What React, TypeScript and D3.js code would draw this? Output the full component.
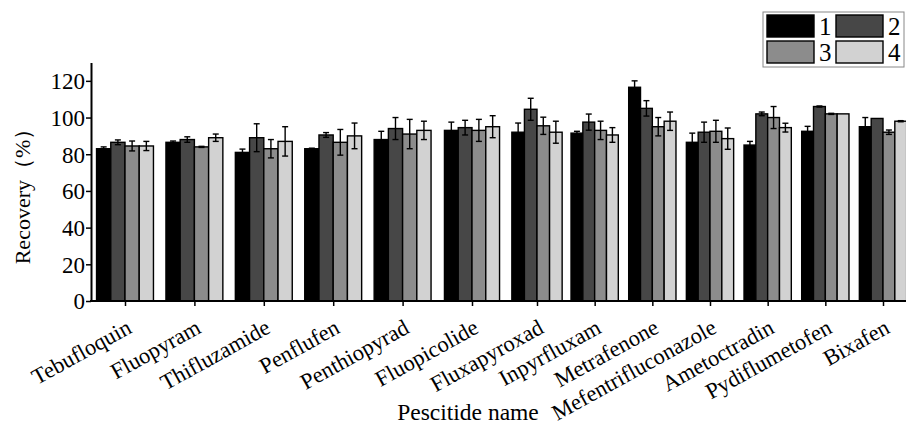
import { useEffect, useRef } from "react";
import * as d3 from "d3";

const pesticides = [
  "Tebufloquin",
  "Fluopyram",
  "Thifluzamide",
  "Penflufen",
  "Penthiopyrad",
  "Fluopicolide",
  "Fluxapyroxad",
  "Inpyrfluxam",
  "Metrafenone",
  "Mefentrifluconazole",
  "Ametoctradin",
  "Pydiflumetofen",
  "Bixafen",
];
const seriesNames = ["1", "2", "3", "4"];
const rec1 = [83, 86.5, 81, 83, 88, 93, 92, 91.5, 116.5, 86.5, 85, 92.5, 95];
const rec2 = [86.5, 88, 89, 90.5, 94, 94.5, 104.5, 97.5, 105, 92, 102, 106, 99.5];
const rec3 = [84.5, 84, 83, 86.5, 91, 93, 95.5, 93, 95, 92.5, 100, 102, 92];
const rec4 = [84.5, 89, 87, 90, 93, 95, 92, 90.5, 98, 88.5, 94.5, 102, 98];
const err1 = [1, 0.7, 1.8, 0.3, 4.5, 4.5, 5, 1, 3.5, 5, 2, 2.7, 5];
const err2 = [1.3, 1.5, 7.6, 1.3, 6, 4, 6, 4.4, 4.2, 5.5, 1, 0.3, 0];
const err3 = [2.7, 0.3, 5, 7, 8, 6, 4.7, 5, 5, 6, 6, 0.3, 1.2];
const err4 = [2.5, 2, 8, 7, 5, 6, 6, 4, 5, 5.8, 2.4, 0, 0.3];
const yTicks = [0, 20, 40, 60, 80, 100, 120];

const colors = ["#000000", "#474747", "#8c8c8c", "#d2d2d2"];
const font = "'Liberation Serif', 'Times New Roman', serif";

function drawChart(svgEl: SVGSVGElement) {
  const svg = d3.select(svgEl);
  svg.selectAll("*").remove();

  const values = [rec1, rec2, rec3, rec4];
  const errors = [err1, err2, err3, err4];

  const axisX = 91;
  const axisY = 301;

  const y = d3.scaleLinear().domain([0, 130]).range([axisY, 62.5]);
  // group centres (the picture is squeezed on the right side)
  const x = d3.scaleLinear().domain([0, 5, 6, 12]).range([125, 472, 537, 883]);

  const stepAt = (i: number) => (x(i + 1) - x(i - 1)) / 2;

  const rows = pesticides.flatMap((p, i) =>
    seriesNames.map((s, k) => ({ i, k, v: values[k][i], e: errors[k][i] })),
  );

  const inner = (i: number) => {
    const w = stepAt(i) * 0.82;
    return d3
      .scaleBand<number>()
      .domain([0, 1, 2, 3])
      .range([x(i) - w / 2, x(i) + w / 2]);
  };

  // bars
  svg
    .append("g")
    .selectAll("rect")
    .data(rows)
    .join("rect")
    .attr("x", (d) => inner(d.i)(d.k)!)
    .attr("y", (d) => y(d.v))
    .attr("width", (d) => inner(d.i).bandwidth())
    .attr("height", (d) => axisY - y(d.v))
    .attr("fill", (d) => colors[d.k])
    .attr("stroke", "#000")
    .attr("stroke-width", 1.4);

  // error bars
  const eb = svg
    .append("g")
    .attr("stroke", "#000")
    .attr("stroke-width", 1.4)
    .selectAll("g")
    .data(rows.filter((d) => d.e > 0))
    .join("g");
  const cx = (d: { i: number; k: number }) =>
    inner(d.i)(d.k)! + inner(d.i).bandwidth() / 2;
  eb.append("line")
    .attr("x1", cx)
    .attr("x2", cx)
    .attr("y1", (d) => y(d.v + d.e))
    .attr("y2", (d) => y(d.v - d.e));
  eb.append("line")
    .attr("x1", (d) => cx(d) - 3)
    .attr("x2", (d) => cx(d) + 3)
    .attr("y1", (d) => y(d.v + d.e))
    .attr("y2", (d) => y(d.v + d.e));
  eb.append("line")
    .attr("x1", (d) => cx(d) - 3)
    .attr("x2", (d) => cx(d) + 3)
    .attr("y1", (d) => y(d.v - d.e))
    .attr("y2", (d) => y(d.v - d.e));

  // y axis
  const yAxis = svg
    .append("g")
    .attr("transform", `translate(${axisX},0)`)
    .call(d3.axisLeft(y).tickValues(yTicks).tickSize(5).tickSizeOuter(0));
  yAxis.select(".domain").attr("stroke-width", 2);
  yAxis.selectAll(".tick line").attr("stroke-width", 1.5);
  yAxis
    .selectAll("text")
    .attr("font-family", font)
    .attr("font-size", 23)
    .attr("fill", "#000")
    .attr("x", -6)
    .attr("dy", "0.34em");

  // x axis
  const xAxis = svg
    .append("g")
    .attr("transform", `translate(0,${axisY})`)
    .call(
      d3
        .axisBottom(x)
        .tickValues(d3.range(pesticides.length))
        .tickSize(5)
        .tickFormat(() => ""),
    );
  xAxis.select(".domain").remove();
  xAxis.selectAll(".tick line").attr("stroke-width", 1.5);
  svg
    .append("line")
    .attr("x1", axisX - 1)
    .attr("x2", 906)
    .attr("y1", axisY)
    .attr("y2", axisY)
    .attr("stroke", "#000")
    .attr("stroke-width", 2);

  // category labels
  svg
    .append("g")
    .attr("font-family", font)
    .attr("font-size", 22.5)
    .attr("text-anchor", "end")
    .selectAll("text")
    .data(pesticides)
    .join("text")
    .attr("transform", (d, i) => `translate(${x(i) + 8},${axisY + 31}) rotate(-29)`)
    .text((d) => d);

  // axis titles
  svg
    .append("text")
    .attr("x", 468)
    .attr("y", 420)
    .attr("text-anchor", "middle")
    .attr("font-family", font)
    .attr("font-size", 23.5)
    .text("Pescitide name");
  svg
    .append("text")
    .attr("transform", `translate(30,191) rotate(-90)`)
    .attr("text-anchor", "middle")
    .attr("font-family", font)
    .attr("font-size", 22)
    .text("Recovery（%）");

  // legend
  const legend = svg.append("g");
  legend
    .append("rect")
    .attr("x", 763)
    .attr("y", 12)
    .attr("width", 141)
    .attr("height", 55)
    .attr("fill", "#fff")
    .attr("stroke", "#888")
    .attr("stroke-width", 1);
  const li = legend
    .selectAll("g")
    .data(seriesNames)
    .join("g")
    .attr(
      "transform",
      (d, k) => `translate(${767 + (k % 2) * 69},${15 + Math.floor(k / 2) * 26})`,
    );
  li.append("rect")
    .attr("width", 47)
    .attr("height", 22)
    .attr("fill", (d, k) => colors[k])
    .attr("stroke", "#000")
    .attr("stroke-width", 1.4);
  li.append("text")
    .attr("x", 52)
    .attr("y", 20)
    .attr("font-family", font)
    .attr("font-size", 25)
    .text((d) => d);
}

export default function App() {
  const ref = useRef<SVGSVGElement>(null);
  useEffect(() => {
    if (ref.current) drawChart(ref.current);
  }, []);
  return (
    <svg
      ref={ref}
      width={906}
      height={425}
      style={{ position: "absolute", left: 0, top: 0, background: "#fff" }}
    />
  );
}
